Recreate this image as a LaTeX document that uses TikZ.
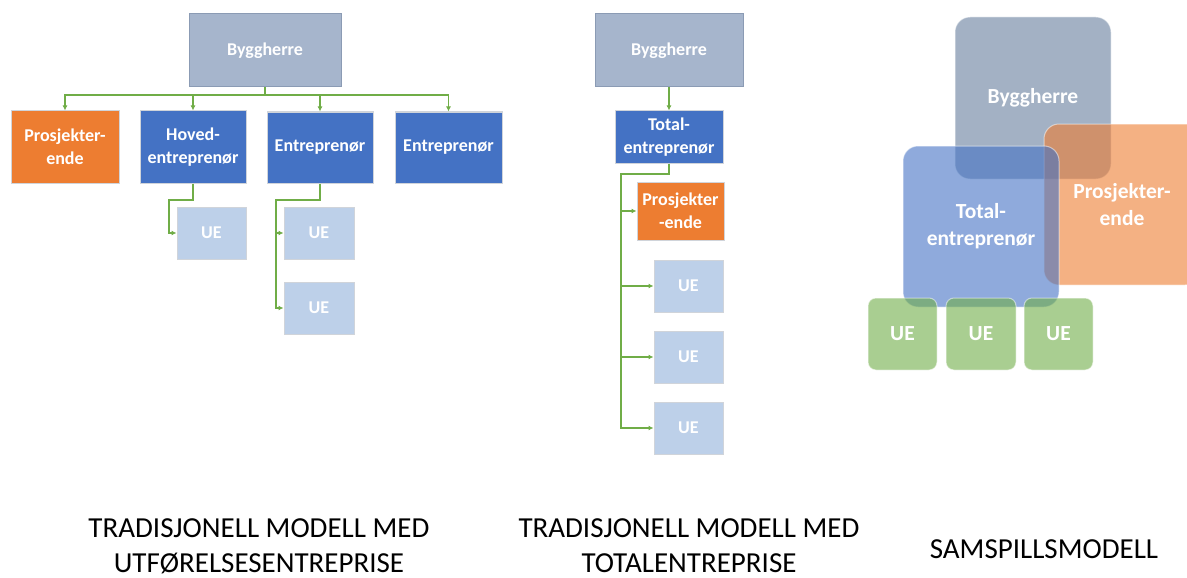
\documentclass[tikz,border=0pt]{standalone}
\usepackage{fontspec}
\setmainfont{Carlito}
\usetikzlibrary{arrows.meta}
\definecolor{bhfill}{HTML}{A6B5CC}
\definecolor{bhline}{HTML}{8B9BB4}
\definecolor{mblue}{HTML}{4472C4}
\definecolor{morange}{HTML}{ED7D31}
\definecolor{uefill}{HTML}{BDD0E9}
\definecolor{mgreen}{HTML}{70AD47}
\definecolor{slate}{HTML}{8497B0}
\definecolor{boxline}{HTML}{D0D4DA}
\tikzset{
  box/.style={rectangle, inner sep=0pt, align=center, text=white,
    font=\fontsize{18}{23}\selectfont\bfseries, line width=1pt},
  owner/.style={box, fill=bhfill, draw=bhline},
  contr/.style={box, fill=mblue, draw=boxline},
  design/.style={box, fill=morange, draw=boxline},
  sub/.style={box, fill=uefill, draw=boxline},
  link/.style={draw=mgreen, line width=1.2pt, -{Latex[length=5pt,width=5pt]}},
  blob/.style={rectangle, rounded corners=15pt, inner sep=0pt, align=center,
    text=white, text opacity=1, font=\fontsize{21.5}{27}\selectfont\bfseries,
    draw=white, draw opacity=0.5, line width=1pt},
  smallblob/.style={blob, rounded corners=8pt},
  caption/.style={align=center, inner sep=0pt, font=\fontsize{29}{35}\selectfont},
}
\begin{document}
\begin{tikzpicture}[x=1pt, y=-1pt]
\useasboundingbox (0,0) rectangle (1187,578);

% --- traditional model, execution contract ---
\node[owner, minimum width=152, minimum height=73] (bh1) at (265,50.5) {Byggherre};
\node[design, minimum width=108, minimum height=72] (pe1) at (65,147) {Prosjekter-\\ende};
\node[contr, minimum width=106, minimum height=72] (he1) at (193,147) {Hoved-\\entreprenør};
\node[contr, minimum width=106, minimum height=71] (en1) at (320,147.5) {Entreprenør};
\node[contr, minimum width=107, minimum height=71] (en2) at (448.5,147.5) {Entreprenør};
\node[sub, minimum width=69, minimum height=52] (ue1) at (211.5,233) {UE};
\node[sub, minimum width=70, minimum height=52] (ue2) at (319,233) {UE};
\node[sub, minimum width=70, minimum height=52] (ue3) at (319,308) {UE};

\coordinate (bus) at (265,95);
\coordinate (hb) at (169,200);
\coordinate (eb) at (276,200);
\draw[link] (bh1.south) -- (bus) -| (pe1.north);
\draw[link] (bus) -| (he1.north);
\draw[link] (bus) -| (en1.north);
\draw[link] (bus) -| (en2.north);
\draw[link] (he1.south) |- (hb) |- (ue1.west);
\draw[link] (en1.south) |- (eb) |- (ue2.west);
\draw[link] (eb) |- (ue3.west);

% --- traditional model, turnkey contract ---
\node[owner, minimum width=148, minimum height=73] (bh2) at (669,50.5) {Byggherre};
\node[contr, minimum width=108, minimum height=52] (te2) at (669,137) {Total-\\entreprenør};
\node[design, minimum width=87, minimum height=58] (pe2) at (680.5,211) {Prosjekter\\-ende};
\node[sub, minimum width=69, minimum height=52] (ue4) at (688.5,286) {UE};
\node[sub, minimum width=69, minimum height=52] (ue5) at (688.5,357) {UE};
\node[sub, minimum width=69, minimum height=52] (ue6) at (688.5,428) {UE};

\coordinate (tb) at (621,174);
\draw[link] (bh2.south) -- (te2.north);
\draw[link] (te2.south) |- (tb) |- (pe2.west);
\draw[link] (tb) |- (ue4.west);
\draw[link] (tb) |- (ue5.west);
\draw[link] (tb) |- (ue6.west);

% --- collaboration model: overlapping translucent boxes ---
\begin{scope}
\clip (0,0) rectangle (1187,578);
\node[blob, fill=slate, fill opacity=0.75, minimum width=156, minimum height=162] (by3) at (1033,98) {Byggherre};
\node[blob, fill=morange, fill opacity=0.6, minimum width=156, minimum height=161] (pr3) at (1122,204.5) {Prosjekter-\\ende};
\node[blob, fill=mblue, fill opacity=0.6, minimum width=156, minimum height=161] (te3) at (981,226.5) {Total-\\entreprenør};
\node[smallblob, fill=mgreen, fill opacity=0.6, minimum width=69, minimum height=72] (ue7) at (902.5,334) {UE};
\node[smallblob, fill=mgreen, fill opacity=0.6, minimum width=70, minimum height=72] (ue8) at (981,334) {UE};
\node[smallblob, fill=mgreen, fill opacity=0.6, minimum width=69, minimum height=72] (ue9) at (1058.5,334) {UE};
\end{scope}

% --- captions ---
\node[caption] (cap1) at (259,546) {TRADISJONELL MODELL MED\\UTFØRELSESENTREPRISE};
\node[caption] (cap2) at (689,546) {TRADISJONELL MODELL MED\\TOTALENTREPRISE};
\node[caption] (cap3) at (1044,549) {SAMSPILLSMODELL};
\end{tikzpicture}
\end{document}
